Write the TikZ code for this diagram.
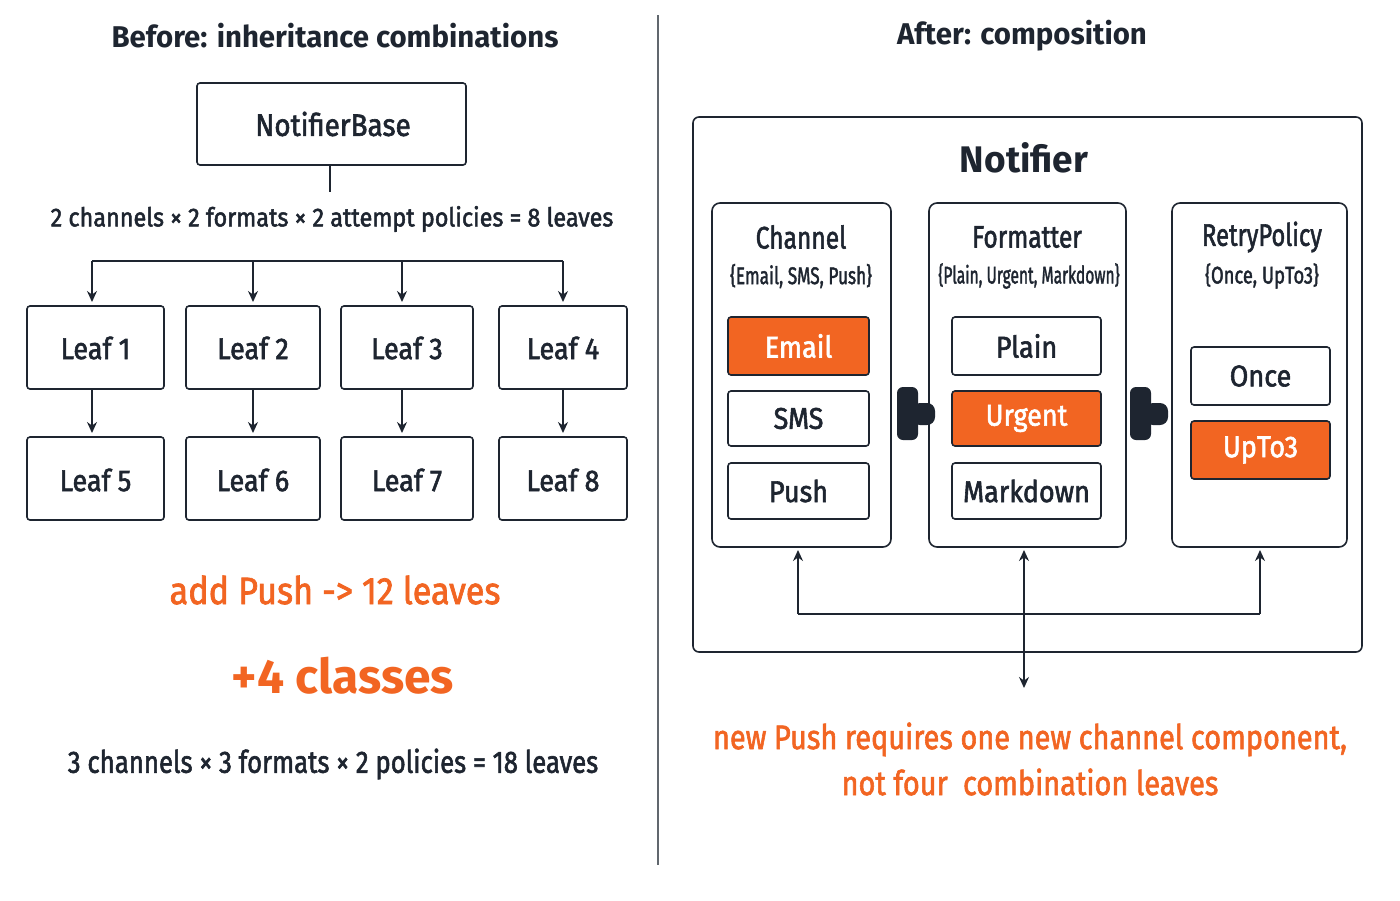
\documentclass[tikz,border=0pt]{standalone}
\usepackage{fontspec}
\setmainfont{Fira Sans}
\usetikzlibrary{arrows.meta}
\definecolor{org}{HTML}{F26522}
\definecolor{ink}{HTML}{1E2530}
\newcommand\fs[1]{\fontsize{#1}{#1}\selectfont\addfontfeature{FakeBold=2}}
\begin{document}
\begin{tikzpicture}[x=1pt,y=-1pt,
  box/.style={draw=ink,line width=1.6pt,rounded corners=3pt},
  lbl/.style={font=\fs{30},text=ink,xscale=0.9},
  arr/.style={draw=ink,line width=1.5pt,-{Stealth[length=11pt,width=10pt]}},
  ln/.style={draw=ink,line width=1.5pt}]
\useasboundingbox (0,0) rectangle (1400,900);
\fill[white] (0,0) rectangle (1400,900);
% left
\node[text=ink,font=\fontsize{30}{30}\selectfont\bfseries,xscale=0.98] (t1) at (335,36) {Before: inheritance combinations};
\draw[ink!70,line width=1.2pt] (658,15) -- (658,865);
\draw[box] (197,83) rectangle (466,165);
\node[lbl,font=\fs{31}] (nb) at (333,124) {NotifierBase};
\node[text=ink,font=\fs{26},xscale=0.9] (eq1) at (332,219) {2 channels × 2 formats × 2 attempt policies = 8 leaves};
\coordinate (nbb) at (330,165);
\draw[ln] (nbb) -- (330,192);
\draw[ln] (92,261) -- (563,261);
\foreach \i/\xa/\xb/\xc in {1/27/164/92,2/186/320/253,3/341/473/402,4/499/627/563}{
  \pgfmathtruncatemacro\j{\i+4}
  \draw[box] (\xa,306) rectangle (\xb,389);
  \node[lbl] (L\i) at ({(\xa+\xb)/2},348) {Leaf \i};
  \draw[box] (\xa,437) rectangle (\xb,520);
  \node[lbl] (L\j) at ({(\xa+\xb)/2},480) {Leaf \j};
  \draw[arr] (\xc,261) -- (\xc,302);
  \draw[arr] (\xc,389) -- (\xc,433);
}
\node[text=org,font=\fs{38},xscale=0.9] (ap) at (335,590) {add Push -> 12 leaves};
\node[text=org,font=\fontsize{48}{48}\selectfont\bfseries] (pc) at (343,676) {+4 classes};
\node[text=ink,font=\fs{31},xscale=0.83] (eq2) at (333,764) {3 channels × 3 formats × 2 policies = 18 leaves};
% right
\node[text=ink,font=\fontsize{30}{30}\selectfont\bfseries,xscale=0.98] (t2) at (1022,36) {After: composition};
\draw[box,rounded corners=6pt] (693,117) rectangle (1362,652);
\node[text=ink,font=\fontsize{37}{37}\selectfont\bfseries] (nt) at (1024,158) {Notifier};
\draw[box,rounded corners=8pt] (712,203) rectangle (891,547);
\draw[box,rounded corners=8pt] (929,203) rectangle (1126,547);
\draw[box,rounded corners=8pt] (1172,203) rectangle (1347,547);
\node[lbl,font=\fs{31},xscale=0.88] (hc) at (801,237) {Channel};
\node[lbl,font=\fs{31},xscale=0.88] (hf) at (1027,237) {Formatter};
\node[lbl,font=\fs{31},xscale=0.85] (hr) at (1262,237) {RetryPolicy};
\node[lbl,font=\fs{24},xscale=0.8] (sc) at (801,276) {\{Email, SMS, Push\}};
\node[lbl,font=\fs{24},xscale=0.72] (sf) at (1029,276) {\{Plain, Urgent, Markdown\}};
\node[lbl,font=\fs{24},xscale=0.85] (sr) at (1262,276) {\{Once, UpTo3\}};
\newcommand\itm[6]{\draw[box,#6] (#1,#2) rectangle (#3,#4);
  \node[lbl,#6] at ({(#1+#3)/2},{(#2+#4)/2}) {#5};}
\itm{728}{317}{869}{375}{Email}{fill=org,text=white}
\itm{728}{391}{869}{446}{SMS}{}
\itm{728}{463}{869}{519}{Push}{}
\itm{952}{317}{1101}{375}{Plain}{}
\itm{952}{391}{1101}{446}{Urgent}{fill=org,text=white}
\itm{952}{463}{1101}{519}{Markdown}{}
\itm{1191}{347}{1330}{405}{Once}{}
\itm{1191}{421}{1330}{479}{UpTo3}{fill=org,text=white}
% plugs
\foreach \px in {897,1130}{
  \fill[ink,rounded corners=6pt] (\px,387) rectangle (\px+21,440);
  \fill[ink,rounded corners=8pt] (\px+15,403) rectangle (\px+38,425);
}
% bottom connectors
\draw[ln] (798,614) -- (1260,614);
\draw[arr] (798,614) -- (798,550);
\draw[arr] (1260,614) -- (1260,550);
\draw[draw=ink,line width=1.5pt,{Stealth[length=11pt,width=10pt]}-{Stealth[length=11pt,width=10pt]}] (1024,550) -- (1024,688);
\node[text=org,font=\fs{34},xscale=0.85,align=center] (nt2) at (1030,759) {new Push requires one new channel component,\\[12pt]not four\ \ combination leaves};
\end{tikzpicture}
\end{document}
